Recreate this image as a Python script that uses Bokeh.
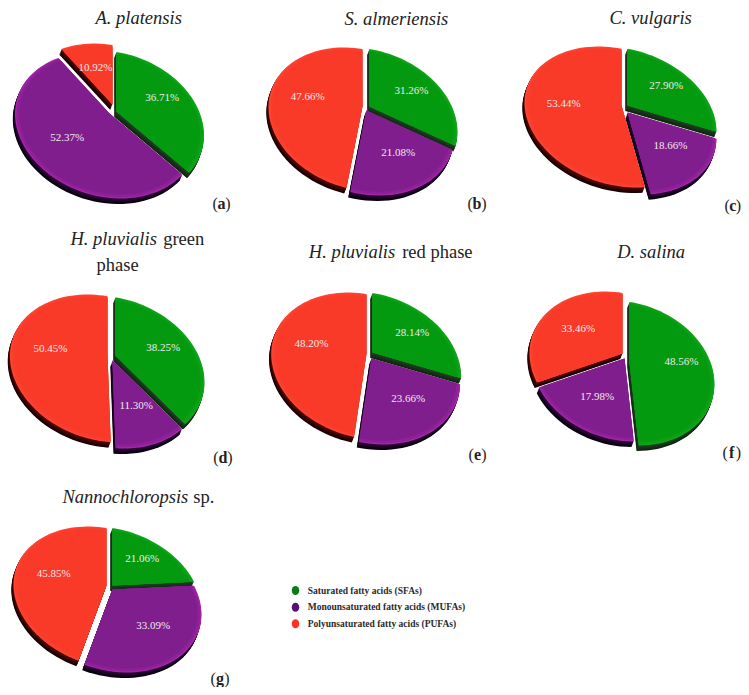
import math
from bokeh.plotting import figure
from bokeh.models import ColumnDataSource, Range1d
from bokeh.core.properties import value
from bokeh.embed import file_html
from bokeh.resources import INLINE

# ---- data ----
panels = ["a", "b", "c", "d", "e", "f", "g"]
sfa  = [36.71, 31.26, 27.90, 38.25, 28.14, 48.56, 21.06]
mufa = [52.37, 21.08, 18.66, 11.30, 23.66, 17.98, 33.09]
pufa = [10.92, 47.66, 53.44, 50.45, 48.20, 33.46, 45.85]
legend_labels = ["Saturated fatty acids (SFAs)",
                 "Monounsaturated fatty acids (MUFAs)",
                 "Polyunsaturated fatty acids (PUFAs)"]

# ---- layout (pixels on the page) ----
# bbox centre cx, cy, half extents X, Y, apex, slice offsets G, P, R
LAYOUT = [
    dict(c=(107.5, 122), e=(91, 73), apex=(111, 110), off=[(5, 1), (-2, 3), (1, -6)]),
    dict(c=(361, 122), e=(91, 72), apex=(364, 109), off=[(5, -3), (2, 1), (-2, -3)]),
    dict(c=(620, 118.5), e=(93, 70.5), apex=(624, 107), off=[(3, -2), (3, 5), (-3, -2)]),
    dict(c=(105.7, 370), e=(93.3, 74), apex=(110, 356), off=[(5, -1), (2, 4), (-3, -2)]),
    dict(c=(365.7, 366.5), e=(92, 73.5), apex=(369, 354), off=[(3, -2), (2, 4), (-3, -1)]),
    dict(c=(621, 368.5), e=(89, 72.5), apex=(625, 358), off=[(4, 4), (-1, 0), (-3, -5)]),
    dict(c=(107, 599), e=(91, 71), apex=(109, 587), off=[(3, -2), (3, 2), (-3, -2)]),
]
LABEL_XY = [
    [(161.7, 96), (66.7, 136), (95, 66.7)],
    [(411, 89), (397.7, 151.7), (307.3, 95)],
    [(665.7, 84), (670, 144.3), (563.3, 102.7)],
    [(162.7, 346), (135.7, 404.3), (50, 347.7)],
    [(411.7, 331.3), (407.7, 397.3), (311, 342)],
    [(681, 360), (596.7, 395.7), (577.7, 327.3)],
    [(141.7, 557.3), (152.7, 624), (53.3, 572)],
]
TILT = math.radians(18)
DEPTH = (-2.2, 5.5)
FACE = [["#12a61c", "#09a014", "#049a10"],
        ["#a526a8", "#901f9a", "#801e8e"],
        ["#fe4634", "#fb3d2b", "#fa3a28"]]
SIDE = [("#26442a", "#0e240e"), ("#300c3a", "#080010"), ("#5c0c08", "#140000")]
LAYER_SCALE = (1.0, 0.985, 0.955)
SERIF = "Liberation Serif"


def lerp(c1, c2, f):
    a = [int(c1[i:i + 2], 16) for i in (1, 3, 5)]
    b = [int(c2[i:i + 2], 16) for i in (1, 3, 5)]
    return "#%02x%02x%02x" % tuple(round(a[i] + (b[i] - a[i]) * f) for i in range(3))


class Pie:
    def __init__(self, lay):
        self.cx, self.cy = lay["c"]
        X, Y = lay["e"]
        s = X * X + Y * Y
        d = (X * X - Y * Y) / math.cos(2 * TILT)
        self.A = math.sqrt((s + d) / 2)
        self.B = math.sqrt((s - d) / 2)
        self.ax, self.ay = lay["apex"]
        dx, dy = self.ax - self.cx, self.ay - self.cy
        c, t = math.cos(TILT), math.sin(TILT)
        self.px = (dx * c + dy * t) / self.A
        self.py = (-dx * t + dy * c) / self.B
        self.s = math.hypot(self.px, self.py)
        # disc angle whose ray leaves the apex straight upwards
        self.start = min((k / 10 for k in range(-600, 600)),
                         key=lambda a: abs(self.point(a)[0] - self.ax))

    def point(self, deg):
        phi = math.radians(deg)
        vx, vy = math.sin(phi), -math.cos(phi)
        s = self.s
        ux, uy = self.px / s, self.py / s
        par = vx * ux + vy * uy
        qx, qy = vx - par * ux, vy - par * uy
        den = 1 + s * par
        np_ = (par + s) / den
        k = math.sqrt(1 - s * s) / den
        nx, ny = np_ * ux + qx * k, np_ * uy + qy * k
        x, y = self.A * nx, self.B * ny
        c, t = math.cos(TILT), math.sin(TILT)
        return self.cx + x * c - y * t, self.cy + x * t + y * c

    def slice(self, a0, a1, off, scale=1.0):
        n = max(3, int((a1 - a0) / 3))
        ox = self.ax + off[0]
        oy = self.ay + off[1]
        xs, ys = [ox], [oy]
        for i in range(n + 1):
            px, py = self.point(a0 + (a1 - a0) * i / n)
            xs.append(ox + (px - self.ax) * scale)
            ys.append(oy + (py - self.ay) * scale)
        return xs, ys


p = figure(width=741, height=687, output_backend="svg", toolbar_location=None,
           x_range=Range1d(0, 741), y_range=Range1d(687, 0), min_border=0,
           outline_line_color=None)
p.axis.visible = False
p.grid.visible = False
p.background_fill_color = "white"

PX, PY, PC = [], [], []
for i in range(len(panels)):
    vals = [sfa[i], mufa[i], pufa[i]]
    pie = Pie(LAYOUT[i])
    total = sum(vals)
    a = pie.start
    spans = []
    for v in vals:
        b = a + 360 * v / total
        spans.append((a, b))
        a = b
    off = LAYOUT[i]["off"]
    steps = 7
    # sides of all slices, deepest first
    for j in range(3):
        for k in range(steps, 0, -1):
            f = k / steps
            xs, ys = pie.slice(spans[j][0], spans[j][1], off[j])
            PX.append([x + DEPTH[0] * f for x in xs])
            PY.append([y + DEPTH[1] * f for y in ys])
            PC.append(lerp(SIDE[j][0], SIDE[j][1], f))
    # top faces, upper slices first so that fronts keep their own edge
    order = sorted(range(3), key=lambda j: off[j][1])
    for j in order:
        for scale, col in zip(LAYER_SCALE, FACE[j]):
            xs, ys = pie.slice(spans[j][0], spans[j][1], off[j], scale)
            PX.append(xs)
            PY.append(ys)
            PC.append(col)
p.patches("x", "y", fill_color="c", line_color=None,
          source=ColumnDataSource(dict(x=PX, y=PY, c=PC)))


def txt(x, y, s, size, color="#222222", style="normal", align="left"):
    p.text([x], [y], text=[s], text_font=value(SERIF), text_font_size=f"{size}px",
           text_font_style=style, text_color=color, text_align=align,
           text_baseline="middle")


# percentage labels
for i in range(len(panels)):
    for v, (x, y) in zip((sfa[i], mufa[i], pufa[i]), LABEL_XY[i]):
        txt(x, y, f"{v:.2f}%", 11, "#efe9e9", align="center")

# titles
TS = 18.5
txt(95, 17, "A. platensis", TS, style="italic")
txt(344, 18, "S. almeriensis", TS, style="italic")
txt(609, 17, "C. vulgaris", TS, style="italic")
txt(70, 238, "H. pluvialis", TS, style="italic")
txt(162.7, 238, "green", TS)
txt(96, 264, "phase", TS)
txt(308.3, 251, "H. pluvialis", TS, style="italic")
txt(401.7, 251, "red phase", TS)
txt(616.7, 251, "D. salina", TS, style="italic")
txt(62, 496, "Nannochloropsis", TS, style="italic")
txt(192.7, 496, "sp.", TS)

# panel letters
for letter, x0, x1, y in [("a", 212, 230, 203), ("b", 467, 486, 203), ("c", 724, 740.5, 205),
                          ("d", 212.7, 232, 457), ("e", 468, 486, 454), ("f", 722, 740.5, 452),
                          ("g", 210, 229, 678)]:
    txt(x0, y, "(", 16)
    txt((x0 + x1) / 2, y, letter, 16, style="bold", align="center")
    txt(x1, y, ")", 16, align="right")

# legend
LEG_Y = [590, 606.7, 623.3]
p.ellipse([295] * 3, LEG_Y, width=7.5, height=9,
          fill_color=["#0a7a1a", "#5a1075", "#ff3020"], line_color=None)
for s, y in zip(legend_labels, LEG_Y):
    txt(307.3, y, s, 9.5, "#2a2a2a", style="bold")

open("out.html", "w").write(file_html(p, INLINE))
